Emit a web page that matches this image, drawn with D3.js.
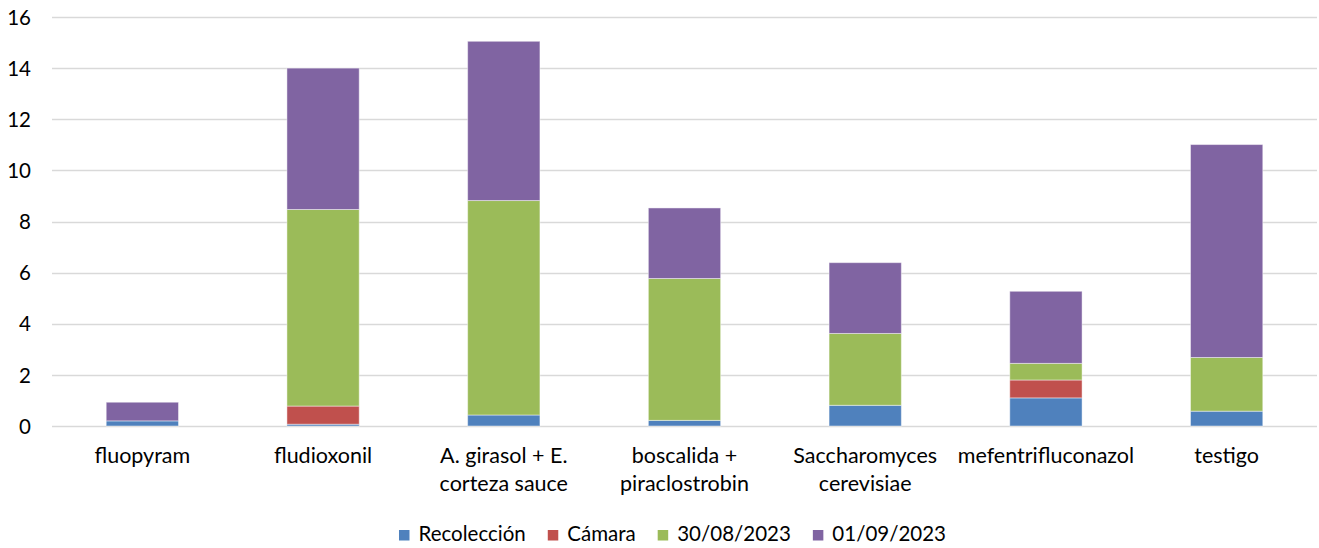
<!DOCTYPE html>
<html>
<head>
<meta charset="utf-8">
<script src="https://cdn.jsdelivr.net/npm/d3@7"></script>
<style>
  html, body { margin: 0; padding: 0; background: #fff; }
  svg text { font-family: Lato, "Liberation Sans", sans-serif; fill: #000; }
</style>
</head>
<body>
<svg id="chart" width="1319" height="548"></svg>
<script>
// Treatments along the x axis (label lines)
const categories = [
  ["fluopyram"],
  ["fludioxonil"],
  ["A. girasol + E.", "corteza sauce"],
  ["boscalida +", "piraclostrobin"],
  ["Saccharomyces", "cerevisiae"],
  ["mefentrifluconazol"],
  ["testigo"]
];
const seriesNames = ["Recolección", "Cámara", "30/08/2023", "01/09/2023"];
const recoleccion = [0.20, 0.07, 0.43, 0.22, 0.81, 1.10, 0.58];
const camara      = [0.00, 0.71, 0.00, 0.00, 0.00, 0.70, 0.00];
const d300823     = [0.00, 7.69, 8.39, 5.55, 2.81, 0.65, 2.10];
const d010923     = [0.73, 5.53, 6.23, 2.76, 2.77, 2.82, 8.33];
const yTicks = [0, 2, 4, 6, 8, 10, 12, 14, 16];
const colors = ["#4f81bd", "#c0504d", "#9bbb59", "#8064a2"];

const svg = d3.select("#chart");
const plotLeft = 52, plotRight = 1317, plotTop = 17, plotBottom = 426;
const fontStack = 'Lato, "Liberation Sans", sans-serif';
const textColor = "#1a1a1a";

const rows = categories.map((c, i) => ({
  key: i,
  label: c,
  "Recolección": recoleccion[i],
  "Cámara": camara[i],
  "30/08/2023": d300823[i],
  "01/09/2023": d010923[i]
}));
const stacked = d3.stack().keys(seriesNames)(rows);

const x = d3.scaleBand().domain(d3.range(categories.length)).range([plotLeft, plotRight]).paddingInner(0.6).paddingOuter(0.3);
const y = d3.scaleLinear().domain([0, 16]).range([plotBottom, plotTop]);

// horizontal gridlines
svg.append("g")
  .selectAll("line").data(yTicks).join("line")
  .attr("x1", plotLeft).attr("x2", plotRight)
  .attr("y1", d => Math.round(y(d)) + 0.5).attr("y2", d => Math.round(y(d)) + 0.5)
  .attr("stroke", "#d9d9d9").attr("stroke-width", 1.5);

// y axis labels
const yAxis = d3.axisLeft(y).tickValues(yTicks).tickSize(0).tickPadding(0);
svg.append("g").attr("transform", `translate(31,0)`).call(yAxis)
  .call(g => g.select(".domain").remove())
  .selectAll("text").attr("font-size", 20.5).attr("dy", "0.35em")
  .style("font-family", fontStack).attr("fill", textColor);

// stacked bars
svg.append("g").selectAll("g").data(stacked).join("g")
  .attr("fill", (d, i) => colors[i])
  .selectAll("rect").data(d => d.filter(s => s[1] - s[0] > 0)).join("rect")
  .attr("x", d => x(d.data.key))
  .attr("width", x.bandwidth())
  .attr("y", d => y(d[1]))
  .attr("height", d => y(d[0]) - y(d[1]))
  .attr("stroke", "rgba(255,255,255,0.45)").attr("stroke-width", 1);

// category labels
const catG = svg.append("g");
rows.forEach(r => {
  const cx = x(r.key) + x.bandwidth() / 2;
  const t = catG.append("text")
    .attr("x", cx)
    .attr("y", 463)
    .attr("text-anchor", "middle")
    .attr("font-size", 21.5)
    .attr("fill", textColor);
  r.label.forEach((line, j) => {
    t.append("tspan").attr("x", cx).attr("dy", j === 0 ? 0 : 28).text(line);
  });
});

// legend
const lg = svg.append("g");
const swatchToText = 19.5, itemGap = 22;
let lx = 0;
seriesNames.forEach((n, i) => {
  const g = lg.append("g").attr("transform", `translate(${lx},0)`);
  g.append("rect").attr("x", 0).attr("y", -11).attr("width", 10.5).attr("height", 10.5).attr("fill", colors[i]);
  const t = g.append("text").attr("x", swatchToText).attr("y", 0).attr("font-size", 20.5).attr("fill", textColor).text(n);
  lx += swatchToText + t.node().getComputedTextLength() + itemGap;
});
const totalW = lx - itemGap;
lg.attr("transform", `translate(${(1319 - totalW) / 2 + 13},541)`);
</script>
</body>
</html>
